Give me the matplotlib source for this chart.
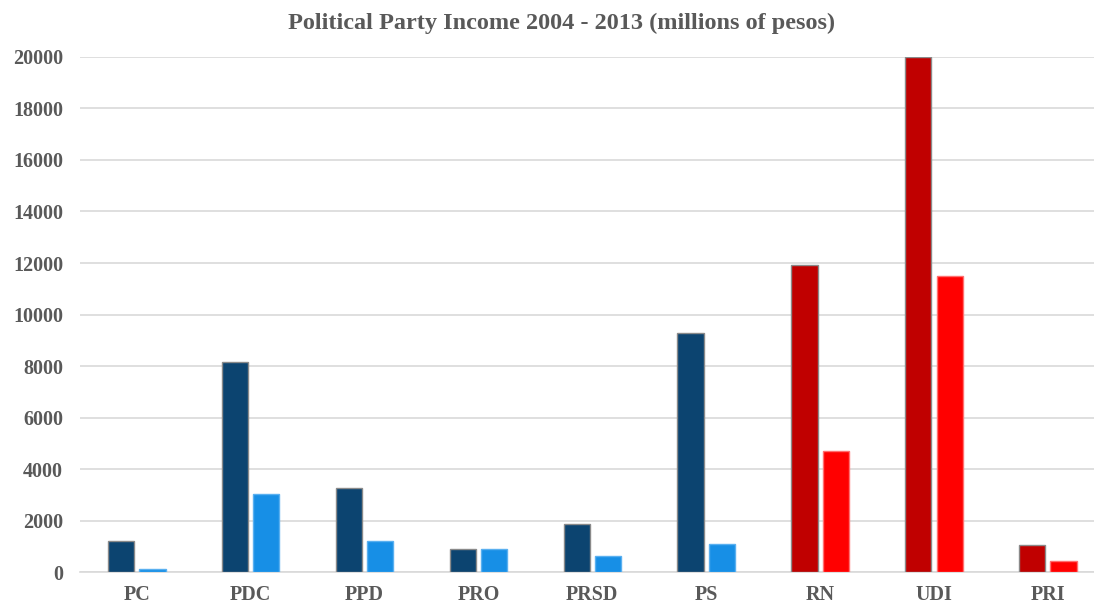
import matplotlib
matplotlib.use("Agg")
import matplotlib.pyplot as plt
import numpy as np

parties = ["PC", "PDC", "PPD", "PRO", "PRSD", "PS", "RN", "UDI", "PRI"]
series_a = [1200, 8150, 3260, 890, 1860, 9280, 11920, 20000, 1050]
series_b = [120, 3030, 1200, 890, 620, 1090, 4700, 11500, 430]
yticks = [0, 2000, 4000, 6000, 8000, 10000, 12000, 14000, 16000, 18000, 20000]

colors_a = ["#0C4470"] * 6 + ["#C00000"] * 3
colors_b = ["#178FE6"] * 6 + ["#FF0000"] * 3
edges_a = ["#8A8A8A"] * 9
edges_b = ["#5AB0F0"] * 6 + ["#FF7070"] * 3

fig = plt.figure(figsize=(10.94, 6.06), dpi=100)
ax = fig.add_axes([0.073, 0.056, 0.94, 0.85])

x = np.arange(len(parties))
w = 0.23
gap = 0.045
ax.bar(x - (w + gap) / 2, series_a, w, color=colors_a, edgecolor=edges_a, linewidth=1.0, zorder=3)
ax.bar(x + (w + gap) / 2, series_b, w, color=colors_b, edgecolor=edges_b, linewidth=1.0, zorder=3)

ax.set_xlim(-0.5, len(parties) - 0.5 + 0.03)
ax.set_ylim(0, 20000)
ax.set_yticks(yticks)
ax.set_xticks(x)
ax.set_xticklabels(parties)
ax.grid(axis="y", color="#D9D9D9", linewidth=1.2, zorder=0)
for s in ["left", "right", "top"]:
    ax.spines[s].set_visible(False)
ax.spines["bottom"].set_color("#D9D9D9")
ax.spines["bottom"].set_linewidth(1.2)
ax.tick_params(axis="both", length=0, labelcolor="#595959")
ax.tick_params(axis="x", pad=9)
ax.tick_params(axis="y", pad=12)
for lab in ax.get_xticklabels() + ax.get_yticklabels():
    lab.set_fontfamily("Liberation Serif")
    lab.set_fontweight("bold")
    lab.set_fontsize(14.5)

fig.text(0.513, 0.962, "Political Party Income 2004 - 2013 (millions of pesos)",
         ha="center", va="center", fontfamily="Liberation Serif", fontweight="bold",
         fontsize=17.5, color="#595959")

fig.savefig("out.png", dpi=100)
